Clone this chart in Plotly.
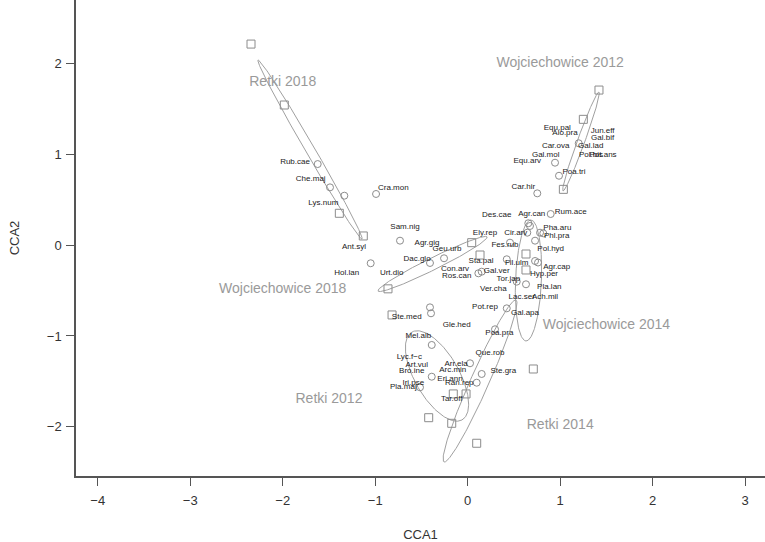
import numpy as np
import plotly.graph_objects as go

# --- site scores (squares) ---
site_x = [-2.343, -1.983, -1.388, -1.129, -0.862, 0.043, 0.133, 1.419, 1.250, 1.034,
          0.630, 0.630, 0.709, 0.097, -0.422, -0.173, -0.156, -0.018, -0.818]
site_y = [2.219, 1.547, 0.353, 0.103, -0.480, 0.029, -0.107, 1.712, 1.389, 0.617,
          -0.096, -0.272, -1.364, -2.183, -1.901, -1.963, -1.639, -1.639, -0.768]

# --- species scores (circles) ---
sp_pt_x = [-1.622, -1.489, -1.334, -0.991, -0.732, -1.049, -0.408, -0.256, 0.115, 0.151,
           0.422, 0.457, 0.644, 0.655, 0.673, 0.897, 0.782, 0.817, 0.728, 0.728,
           0.760, 0.530, 0.630, 0.422, -0.408, -0.397, 0.295, -0.389, 0.025, 0.151,
           -0.389, 0.097, -0.516, 0.944, 0.987, 0.752, 1.200]
sp_pt_y = [0.896, 0.639, 0.547, 0.566, 0.051, -0.198, -0.195, -0.143, -0.309, -0.291,
           -0.154, 0.029, 0.139, 0.243, 0.213, 0.345, 0.139, 0.132, 0.051, -0.173,
           -0.190, -0.401, -0.430, -0.695, -0.684, -0.750, -0.926, -1.099, -1.301, -1.419,
           -1.449, -1.515, -1.566, 0.911, 0.767, 0.573, 1.125]

# --- species labels ---
sp_names = ["Rub.cae", "Che.maj", "Lys.num", "Cra.mon", "Sam.nig", "Ant.syl", "Hol.lan",
            "Urt.dio", "Agr.gig", "Geu.urb", "Dac.glo", "Con.arv", "Ros.can", "Gal.ver",
            "Sta.pal", "Ely.rep", "Cir.arv", "Fes.rub", "Des.cae", "Agr.can", "Rum.ace",
            "Pha.aru", "Phl.pra", "Pol.hyd", "Fil.ulm", "Agr.cap", "Hyp.per", "Tor.jap",
            "Pla.lan", "Ver.cha", "Lac.ser", "Ach.mil", "Pot.rep", "Gal.apa", "Ste.med",
            "Gle.hed", "Poa.pra", "Mel.alb", "Que.rob", "Lyc.f\u2212c", "Art.vul", "Bro.ine",
            "Arr.ela", "Arc.min", "Ste.gra", "Eri.ann", "Ran.rep", "Iri.pse", "Pla.maj",
            "Tar.off", "Equ.pal", "Alo.pra", "Jun.eff", "Gal.bif", "Car.ova", "Gal.lad",
            "Gal.mol", "Pol.bis", "Pot.ans", "Poa.tri", "Equ.arv", "Car.hir"]
sp_lab_x = [-1.867, -1.697, -1.561, -0.804, -0.678, -1.229, -1.308, -0.822, -0.440, -0.224,
            -0.548, -0.137, -0.119, 0.313, 0.144, 0.187, 0.519, 0.403, 0.313, 0.692,
            1.113, 0.969, 0.962, 0.897, 0.530, 0.962, 0.825, 0.439, 0.882, 0.277,
            0.584, 0.836, 0.187, 0.619, -0.659, -0.119, 0.342, -0.534, 0.241, -0.631,
            -0.551, -0.605, -0.126, -0.162, 0.385, -0.191, -0.091, -0.588, -0.696, -0.173,
            0.969, 1.052, 1.459, 1.459, 0.951, 1.330, 0.843, 1.333, 1.463, 1.149,
            0.644, 0.601]
sp_lab_y = [0.922, 0.731, 0.470, 0.628, 0.198, -0.022, -0.302, -0.302, 0.025, -0.041,
            -0.151, -0.265, -0.338, -0.283, -0.173, 0.132, 0.139, 0.003, 0.334, 0.345,
            0.364, 0.187, 0.103, -0.041, -0.192, -0.243, -0.320, -0.375, -0.456, -0.485,
            -0.573, -0.567, -0.684, -0.750, -0.787, -0.879, -0.964, -1.000, -1.191, -1.235,
            -1.320, -1.383, -1.309, -1.375, -1.383, -1.474, -1.521, -1.521, -1.559, -1.698,
            1.297, 1.241, 1.263, 1.183, 1.095, 1.095, 0.999, 0.999, 0.999, 0.811,
            0.933, 0.639]

# --- group ellipses: major-axis end points and semi-minor half-width ---
grp_names = ["Retki 2018", "Wojciechowice 2018", "Wojciechowice 2012",
             "Wojciechowice 2014", "Retki 2012", "Retki 2014"]
ell_x1 = [-2.267, -0.970, 1.419, 0.684, -0.602, 0.522]
ell_y1 = [2.043, -0.504, 1.690, 0.279, -0.956, -0.603]
ell_x2 = [-1.143, 0.209, 1.030, 0.630, -0.062, -0.256]
ell_y2 = [0.069, 0.092, 0.599, -1.055, -1.926, -2.389]
ell_minor = [0.05, 0.066, 0.04, 0.14, 0.24, 0.10]

# --- group label positions ---
grp_lab_x = [-2.0, -2.0, 1.0, 1.5, -1.5, 1.0]
grp_lab_y = [1.8, -0.485, 2.01, -0.88, -1.705, -1.99]

FONT = "Liberation Sans, Arial, Helvetica, sans-serif"
GREY = "#8c8c8c"

fig = go.Figure()

t = np.linspace(0, 2 * np.pi, 200)
for x1, y1, x2, y2, b in zip(ell_x1, ell_y1, ell_x2, ell_y2, ell_minor):
    cx, cy = (x1 + x2) / 2, (y1 + y2) / 2
    dx, dy = (x2 - x1) / 2, (y2 - y1) / 2
    a = np.hypot(dx, dy)
    ux, uy = dx / a, dy / a
    ex = cx + a * np.cos(t) * ux - b * np.sin(t) * uy
    ey = cy + a * np.cos(t) * uy + b * np.sin(t) * ux
    fig.add_trace(go.Scatter(x=ex, y=ey, mode="lines",
                             line=dict(color="#a0a0a0", width=1),
                             hoverinfo="skip", showlegend=False))

fig.add_trace(go.Scatter(x=sp_pt_x, y=sp_pt_y, mode="markers",
                         marker=dict(symbol="circle-open", size=7,
                                     color=GREY, line=dict(width=1)),
                         showlegend=False))
fig.add_trace(go.Scatter(x=site_x, y=site_y, mode="markers",
                         marker=dict(symbol="square-open", size=8,
                                     color=GREY, line=dict(width=1)),
                         showlegend=False))
fig.add_trace(go.Scatter(x=sp_lab_x, y=sp_lab_y, mode="text", text=sp_names,
                         textfont=dict(family=FONT, size=8, color="#1a1a1a"),
                         showlegend=False))
fig.add_trace(go.Scatter(x=grp_lab_x, y=grp_lab_y, mode="text", text=grp_names,
                         textfont=dict(family=FONT, size=14, color="#9a9a9a"),
                         showlegend=False))

axis_common = dict(showgrid=False, zeroline=False, showline=True,
                   linecolor="#555555", linewidth=1.5, ticks="outside",
                   ticklen=8, tickwidth=1, tickcolor="#555555",
                   tickfont=dict(family=FONT, size=13, color="#333333"))

fig.update_layout(
    width=765, height=542,
    margin=dict(l=76, r=0, t=0, b=66),
    paper_bgcolor="white", plot_bgcolor="white",
    xaxis=dict(range=[-4.235, 3.214], tickvals=[-4, -3, -2, -1, 0, 1, 2, 3],
               ticklabelstandoff=4,
               title=dict(text="CCA1", font=dict(family=FONT, size=13, color="#333333"),
                          standoff=26),
               **axis_common),
    yaxis=dict(range=[-2.544, 2.705], tickvals=[-2, -1, 0, 1, 2],
               ticklabelstandoff=2,
               title=dict(text="CCA2", font=dict(family=FONT, size=13, color="#333333"),
                          standoff=24),
               **axis_common),
)

fig.write_html("out.html")
